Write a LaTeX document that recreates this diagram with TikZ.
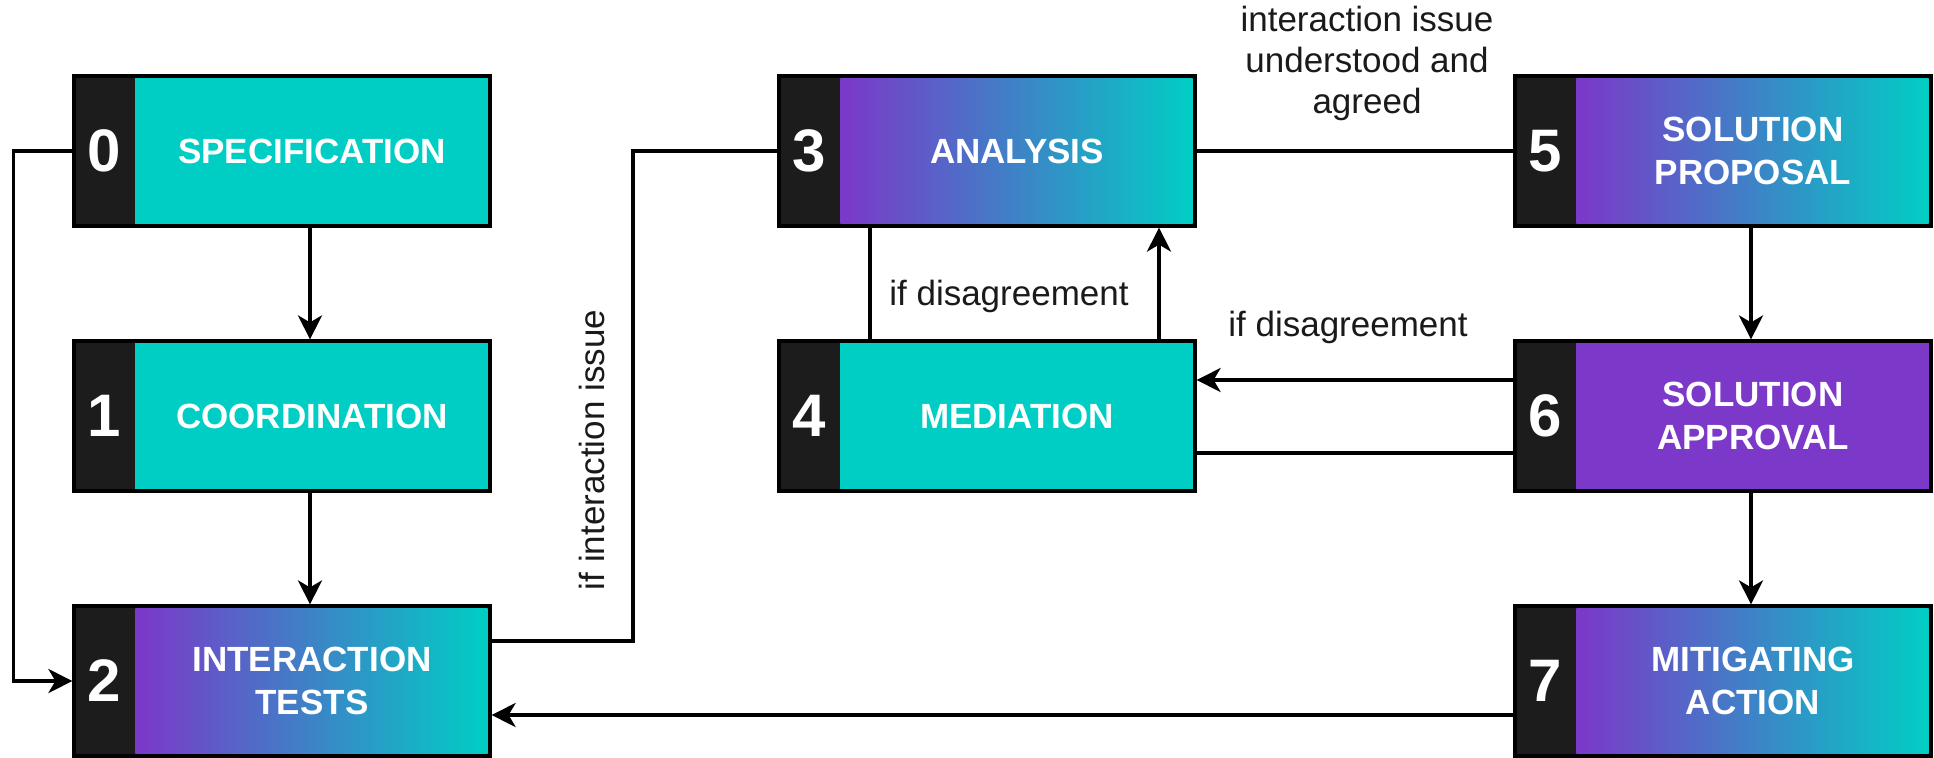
\documentclass[tikz,border=0pt]{standalone}
\usepackage{fontspec}
\setmainfont{Liberation Sans}
\usetikzlibrary{arrows.meta,calc}
\definecolor{tealc}{HTML}{00CEC4}
\definecolor{purp}{HTML}{7B38C9}
\definecolor{numbg}{HTML}{1C1C1C}
\definecolor{lbltxt}{HTML}{1A1A1A}
\tikzset{
  stage/.style={fill=numbg, draw=black, line width=1.6pt, minimum width=208pt, minimum height=75pt, inner sep=0pt},
  numtxt/.style={text=white, font=\fontsize{30}{30}\selectfont\bfseries, inner sep=0pt},
  boxtxt/.style={text=white, font=\fontsize{17.5}{21.5}\selectfont\bfseries, align=center, inner sep=0pt},
  lbl/.style={text=lbltxt, font=\fontsize{17.5}{20.5}\selectfont, align=center, inner sep=0pt},
  conn/.style={line width=1.8pt, draw=black},
  arr/.style={conn, -{Stealth[length=12pt,width=12pt,inset=3.5pt]}},
  tealfill/.style={fill=tealc},
  purpfill/.style={fill=purp},
  gradfill/.style={shade, left color=purp, right color=tealc},
}
\newcommand\stagebox[6]{%
  \node[stage] (#1) at (#2,#3) {};
  \path[#6] ($(#1.north west)+(63,4)$) rectangle ($(#1.south east)+(-4,-4)$);
  \node[numtxt] (#1num) at ($(#1.west)+(32,0)$) {#4};
  \node[boxtxt] (#1txt) at ($(#1.center)+(30,0)$) {#5};
}
\begin{document}
\begin{tikzpicture}[x=0.5pt,y=-0.5pt]
\useasboundingbox (0,0) rectangle (1934,757);
\stagebox{n0}{282}{151}{0}{SPECIFICATION}{tealfill}
\stagebox{n1}{282}{416}{1}{COORDINATION}{tealfill}
\stagebox{n2}{282}{681}{2}{INTERACTION\\TESTS}{gradfill}
\stagebox{n3}{987}{151}{3}{ANALYSIS}{gradfill}
\stagebox{n4}{987}{416}{4}{MEDIATION}{tealfill}
\stagebox{n5}{1723}{151}{5}{SOLUTION\\PROPOSAL}{gradfill}
\stagebox{n6}{1723}{416}{6}{SOLUTION\\APPROVAL}{purpfill}
\stagebox{n7}{1723}{681}{7}{MITIGATING\\ACTION}{gradfill}

\coordinate (j23) at (633,0);

% connectors
\draw[arr] (n0.west) -- ++(-59,0) |- (n2.west);
\draw[arr] ($(n0.south)+(28,0)$) -- ($(n1.north)+(28,0)$);
\draw[arr] ($(n1.south)+(28,0)$) -- ($(n2.north)+(28,0)$);
\draw[conn] ($(n2.east)+(0,-40)$) -| (j23 |- n3.west) -- (n3.west);
\draw[arr] ($(n7.west)+(0,34)$) -- ($(n2.east)+(0,34)$);
\draw[conn] (n3.east) -- (n5.west);
\draw[conn] ($(n3.south)+(-117,0)$) -- ($(n4.north)+(-117,0)$);
\draw[arr] ($(n4.north)+(172,0)$) -- ($(n3.south)+(172,0)$);
\draw[arr] ($(n6.west)+(0,-36)$) -- ($(n4.east)+(0,-36)$);
\draw[conn] ($(n6.west)+(0,37)$) -- ($(n4.east)+(0,37)$);
\draw[arr] ($(n5.south)+(28,0)$) -- ($(n6.north)+(28,0)$);
\draw[arr] ($(n6.south)+(28,0)$) -- ($(n7.north)+(28,0)$);

% labels
\node[lbl] (l35) at (1367,63) {interaction issue\\understood and\\agreed};
\node[lbl, rotate=90] (l23) at (592,450) {if interaction issue};
\node[lbl] (l34) at (1009,296) {if disagreement};
\node[lbl] (l64) at (1348,327) {if disagreement};
\end{tikzpicture}
\end{document}
